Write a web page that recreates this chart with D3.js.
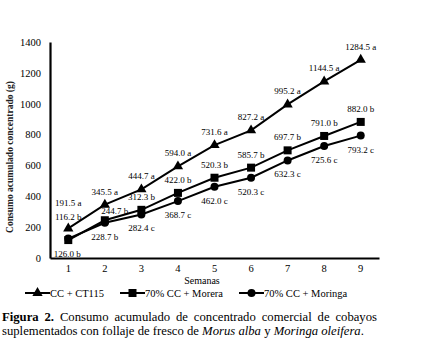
<!DOCTYPE html>
<html><head><meta charset="utf-8">
<script src="https://cdn.jsdelivr.net/npm/d3@7"></script>
<style>
body{margin:0;background:#fff;}
svg{display:block;}
</style></head>
<body>
<svg id="c" width="421" height="354"></svg>
<script>
const weeks = [1,2,3,4,5,6,7,8,9];
const yTicks = [0,200,400,600,800,1000,1200,1400];
const ct115 = [191.5,345.5,444.7,594.0,731.6,827.2,995.2,1144.5,1284.5];
const ct115Letters = ["a","a","a","a","a","a","a","a","a"];
const morera = [116.2,244.7,312.3,422.0,520.3,585.7,697.7,791.0,882.0];
const moreraLetters = ["b","b","b","b","b","b","b","b","b"];
const moringa = [126.0,228.7,282.4,368.7,462.0,520.3,632.3,725.6,793.2];
const moringaLetters = ["b","b","c","c","c","c","c","c","c"];
const seriesNames = ["CC + CT115","70% CC + Morera","70% CC + Moringa"];

const FONT = '"Liberation Serif", "Times New Roman"';
const svg = d3.select("#c");
const x = d3.scaleBand().domain(weeks).range([50,379]);
const y = d3.scaleLinear().domain([0,1400]).range([258,42]);
const cx = d => x(d) + x.bandwidth()/2;

// axes
const yAxis = svg.append("g").attr("transform","translate(50,0)")
  .call(d3.axisLeft(y).tickValues(yTicks).tickFormat(d3.format("d")).tickSize(0).tickPadding(9));
yAxis.select(".domain").attr("stroke","#000").attr("stroke-width",2.2);
yAxis.selectAll("text").attr("font-size",10.5).attr("fill","#000");

const xAxis = svg.append("g").attr("transform","translate(0,258)")
  .call(d3.axisBottom(x).tickSize(0).tickPadding(7));
xAxis.select(".domain").attr("stroke","#000").attr("stroke-width",2.2);
xAxis.selectAll("text").attr("font-size",10.5).attr("fill","#000");

svg.append("text").attr("x",202).attr("y",283.5).attr("text-anchor","middle")
  .attr("font-size",10).attr("fill","#000").text("Semanas");
svg.append("text").attr("transform","translate(13,157) rotate(-90)").attr("text-anchor","middle")
  .attr("font-size",9.5).attr("font-weight","bold").attr("fill","#222").text("Consumo acumulado concentrado (g)");

const line = d3.line().x((d,i)=>cx(weeks[i])).y(d=>y(d));
const series = [
  {vals:ct115, lets:ct115Letters, shape:"tri", pos:"above"},
  {vals:morera, lets:moreraLetters, shape:"sq", pos:"above"},
  {vals:moringa, lets:moringaLetters, shape:"circ", pos:"below"}
];
function marker(g, shape, px, py){
  if(shape==="tri") g.append("path").attr("d",d3.symbol(d3.symbolTriangle,46)()).attr("transform",`translate(${px},${py})`).attr("fill","#000");
  else if(shape==="sq") g.append("rect").attr("x",px-4).attr("y",py-4).attr("width",8).attr("height",8).attr("fill","#000");
  else g.append("circle").attr("cx",px).attr("cy",py).attr("r",4).attr("fill","#000");
}
series.forEach(s=>{
  svg.append("path").datum(s.vals).attr("d",line).attr("fill","none").attr("stroke","#000").attr("stroke-width",2);
});
series.forEach(s=>{
  s.vals.forEach((v,i)=>marker(svg,s.shape,cx(weeks[i]),y(v)));
});
// labels
const labelG = svg.append("g").attr("font-size",9).attr("fill","#000").attr("text-anchor","middle");
series.forEach((s,si)=>{
  s.vals.forEach((v,i)=>{
    let px = cx(weeks[i]), py = y(v);
    let dy = s.pos==="above" ? -10 : 17;
    let dx = 0;
    if(i===0){
      if(si===0) dy=-22;
      if(si===1) dy=-20;
      if(si===2) {dy=18; dx=-1;}
    }
    if(i===1 && si===1){dx=10; dy=-6;}
    if(i===1 && si===2){dy=17;}
    labelG.append("text").attr("x",px+dx).attr("y",py+dy).text(v.toFixed(1)+" "+s.lets[i]);
  });
});

// legend
const legend = svg.append("g").attr("font-size",10.5).attr("fill","#000");
const legX = [25,120,239];
series.forEach((s,i)=>{
  const g = legend.append("g");
  g.append("line").attr("x1",legX[i]).attr("x2",legX[i]+25).attr("y1",293).attr("y2",293).attr("stroke","#000").attr("stroke-width",2);
  marker(g,s.shape,legX[i]+12.5,293);
  g.append("text").attr("x",legX[i]+25).attr("y",296.5).text(seriesNames[i]);
});

// caption
const cap = svg.append("g").attr("font-size",12.7).attr("fill","#000");
svg.selectAll("text").style("font-family",FONT);
const words1 = [["Figura","bold"],["2.","bold"],["Consumo"],["acumulado"],["de"],["concentrado"],["comercial"],["de"],["cobayos"]];
const tmp = words1.map(w=>{
  const t = cap.append("text").attr("y",320.5).style("font-family",FONT).text(w[0]);
  if(w[1]) t.attr("font-weight","bold");
  return t;
});
const widths = tmp.map(t=>t.node().getComputedTextLength());
const total = d3.sum(widths);
const gap = (377-2-total)/(words1.length-1);
let xx = 2;
tmp.forEach((t,i)=>{ t.attr("x",xx); xx += widths[i]+gap; });
const l2 = cap.append("text").attr("x",2).attr("y",335).style("font-family",FONT);
l2.append("tspan").text("suplementados con follaje de fresco de ");
l2.append("tspan").attr("font-style","italic").text("Morus alba");
l2.append("tspan").text(" y ");
l2.append("tspan").attr("font-style","italic").text("Moringa oleifera");
l2.append("tspan").text(".");
</script>
</body></html>
